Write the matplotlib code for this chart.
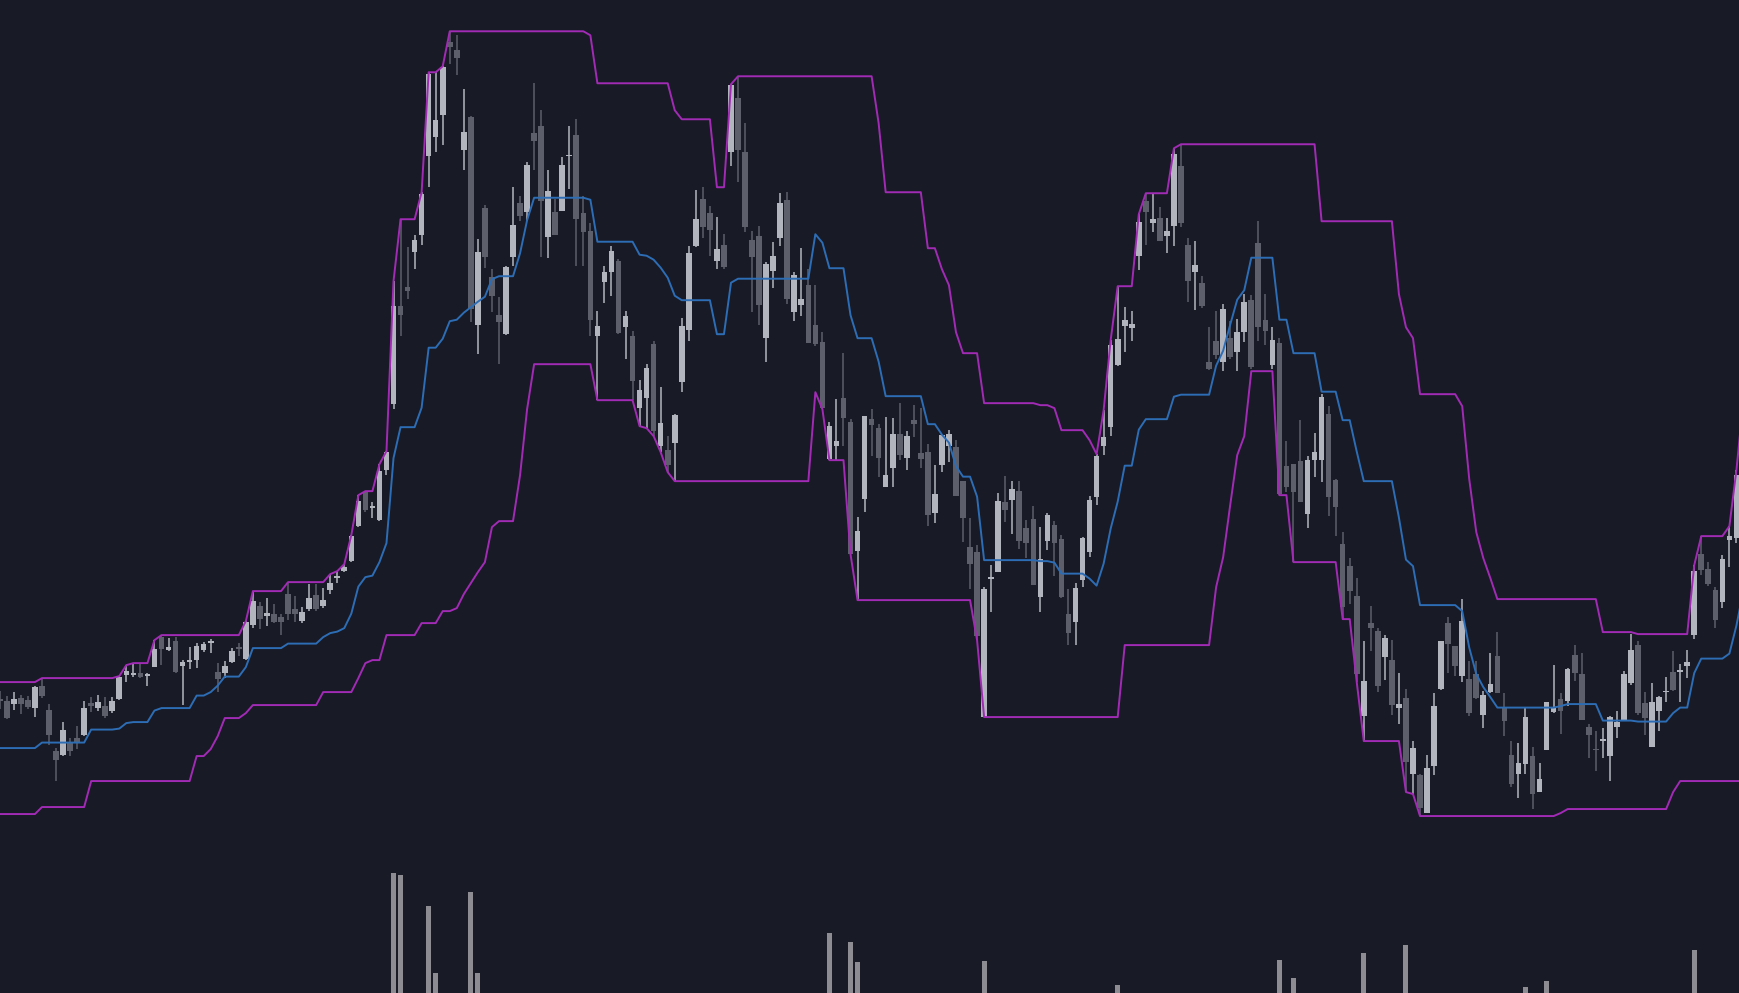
import numpy as np
import pandas as pd
import matplotlib
matplotlib.use("Agg")
import matplotlib.pyplot as plt

# bars -19..-1 lie left of the visible window; they only feed the channel
bar_idx = np.arange(-19, 248)

opens = [
    215, 222, 210, 202, 194, 205, 218, 225, 212, 205, 210, 204, 220, 235, 260, 290, 305, 295, 300,
    298, 295, 301, 299, 291, 313, 289, 248, 244, 257,
    261, 264, 296, 291, 293, 288, 300, 324, 324, 326,
    323, 332, 362, 349, 358, 333, 337, 339, 349, 356,
    327, 326, 337, 352, 340, 374, 393, 383, 385, 382,
    405, 390, 378, 390, 404, 393, 409, 421, 428, 438,
    473, 507, 491, 479, 529, 595, 693, 712, 747, 764,
    843, 862, 884, 957, 949, 849, 882, 674, 791, 722,
    684, 665, 742, 796, 787, 866, 873, 762, 787, 788,
    843, 864, 786, 768, 663, 717, 727, 738, 672, 663,
    591, 601, 655, 553, 549, 556, 617, 669, 753, 800,
    786, 738, 754, 847, 901, 847, 759, 763, 661, 728,
    761, 799, 687, 694, 714, 674, 657, 540, 553, 601,
    577, 448, 500, 580, 571, 512, 531, 565, 541, 579,
    546, 547, 486, 534, 553, 552, 518, 452, 447, 282,
    420, 427, 497, 499, 508, 471, 480, 402, 458, 474,
    460, 385, 377, 419, 447, 502, 553, 572, 634, 673,
    671, 743, 798, 776, 781, 763, 773, 833, 754, 727,
    716, 637, 658, 637, 661, 647, 667, 699, 756, 679,
    634, 656, 533, 535, 538, 485, 539, 539, 585, 519,
    455, 433, 403, 283, 376, 368, 342, 339, 291, 301,
    225, 224, 186, 233, 310, 376, 353, 323, 320, 325,
    284, 307, 343, 291, 244, 225, 235, 243, 207, 249,
    287, 300, 298, 344, 325, 272, 250, 258, 243, 272,
    279, 316, 354, 296, 252, 288, 307, 327, 327, 333,
    364, 445, 430, 409, 397, 459, 461, 524,
]
highs = [
    228, 230, 220, 215, 210, 222, 230, 235, 224, 216, 220, 217, 242, 265, 295, 317, 312, 310, 308,
    303, 307, 304, 303, 313, 321, 295, 251, 277, 261,
    273, 298, 302, 304, 302, 302, 323, 334, 336, 335,
    326, 359, 364, 361, 362, 339, 352, 356, 357, 360,
    336, 338, 351, 356, 378, 408, 397, 401, 395, 385,
    417, 403, 392, 415, 415, 411, 425, 428, 435, 464,
    504, 508, 497, 535, 548, 718, 780, 752, 764, 807,
    927, 927, 933, 968, 964, 910, 883, 760, 794, 730,
    702, 733, 812, 803, 837, 916, 889, 829, 800, 842,
    873, 880, 803, 776, 688, 733, 753, 740, 688, 668,
    619, 635, 658, 612, 563, 585, 681, 753, 809, 812,
    793, 782, 765, 915, 923, 876, 768, 773, 737, 757,
    806, 807, 727, 751, 730, 714, 667, 577, 600, 646,
    580, 482, 583, 590, 575, 582, 581, 596, 568, 594,
    591, 555, 534, 564, 569, 559, 518, 481, 454, 412,
    434, 506, 523, 518, 518, 479, 493, 472, 486, 478,
    464, 410, 416, 462, 503, 545, 589, 659, 713, 692,
    688, 785, 806, 805, 792, 781, 851, 855, 761, 758,
    723, 672, 688, 695, 678, 680, 705, 704, 778, 705,
    672, 661, 558, 535, 579, 543, 566, 605, 593, 520,
    467, 441, 421, 358, 393, 371, 364, 359, 326, 310,
    258, 225, 244, 306, 358, 382, 353, 400, 338, 338,
    308, 346, 367, 306, 258, 256, 292, 252, 236, 297,
    334, 306, 331, 354, 346, 275, 268, 271, 283, 288,
    328, 365, 358, 307, 316, 303, 322, 348, 335, 349,
    434, 463, 437, 412, 444, 473, 529, 600,
]
lows = [
    200, 205, 195, 190, 185, 200, 210, 208, 200, 196, 200, 192, 219, 230, 255, 285, 288, 286, 290,
    280, 289, 285, 290, 282, 301, 254, 218, 243, 243,
    250, 263, 287, 288, 281, 286, 299, 317, 322, 321,
    313, 332, 334, 348, 326, 294, 330, 331, 347, 346,
    307, 321, 336, 343, 339, 371, 370, 373, 376, 364,
    379, 377, 376, 388, 388, 391, 405, 416, 427, 437,
    472, 487, 481, 478, 524, 590, 663, 700, 730, 754,
    812, 847, 854, 935, 924, 829, 677, 645, 731, 687,
    635, 664, 733, 778, 778, 829, 742, 741, 764, 788,
    810, 733, 733, 663, 599, 696, 703, 665, 640, 599,
    573, 571, 563, 547, 527, 518, 607, 658, 752, 761,
    743, 730, 730, 833, 817, 767, 687, 674, 637, 711,
    753, 695, 678, 683, 656, 653, 590, 539, 539, 553,
    445, 399, 487, 543, 522, 512, 512, 539, 529, 562,
    531, 473, 476, 527, 537, 503, 457, 410, 359, 282,
    387, 427, 477, 465, 450, 441, 414, 387, 449, 423,
    401, 354, 354, 412, 442, 494, 544, 563, 633, 647,
    658, 729, 754, 767, 758, 746, 753, 772, 697, 689,
    691, 629, 640, 628, 640, 628, 657, 630, 658, 654,
    630, 504, 507, 437, 497, 471, 522, 517, 483, 463,
    380, 395, 317, 258, 348, 307, 319, 284, 275, 207,
    205, 183, 186, 224, 309, 326, 323, 317, 283, 300,
    271, 306, 306, 263, 212, 201, 225, 190, 207, 249,
    286, 265, 293, 318, 279, 241, 228, 241, 218, 261,
    279, 314, 284, 264, 252, 268, 297, 308, 297, 321,
    360, 424, 413, 371, 391, 432, 456, 520,
]
closes = [
    222, 210, 202, 194, 205, 218, 225, 212, 205, 210, 204, 214, 235, 260, 290, 305, 295, 300, 298,
    281, 300, 295, 292, 312, 303, 264, 239, 269, 248,
    256, 291, 293, 297, 283, 298, 322, 328, 326, 322,
    325, 350, 350, 352, 327, 337, 339, 353, 355, 358,
    320, 333, 348, 350, 377, 398, 380, 386, 377, 377,
    385, 385, 387, 401, 390, 399, 416, 423, 432, 463,
    498, 489, 493, 528, 547, 693, 684, 708, 759, 805,
    925, 879, 932, 952, 941, 867, 690, 747, 742, 703,
    677, 732, 774, 783, 834, 858, 798, 808, 764, 834,
    844, 780, 767, 679, 673, 727, 748, 666, 683, 618,
    609, 631, 568, 576, 534, 584, 673, 746, 780, 772,
    769, 750, 732, 914, 849, 772, 742, 694, 735, 743,
    796, 700, 724, 700, 656, 655, 591, 573, 558, 581,
    445, 468, 583, 574, 541, 524, 565, 544, 563, 575,
    540, 484, 505, 564, 565, 503, 481, 435, 363, 410,
    422, 498, 489, 510, 458, 456, 414, 440, 484, 456,
    402, 366, 411, 461, 499, 543, 562, 654, 660, 679,
    675, 777, 787, 780, 758, 768, 845, 776, 718, 734,
    693, 630, 644, 690, 642, 667, 697, 632, 672, 668,
    659, 505, 512, 507, 497, 539, 547, 602, 502, 492,
    392, 408, 325, 318, 371, 313, 361, 294, 295, 237,
    251, 191, 231, 293, 358, 355, 333, 378, 286, 301,
    304, 315, 306, 278, 215, 236, 282, 205, 220, 297,
    292, 288, 330, 326, 279, 264, 249, 260, 282, 277,
    325, 349, 286, 281, 297, 302, 308, 309, 329, 337,
    428, 429, 415, 379, 440, 463, 524, 590,
]

# volume (thousands), only the spikes tall enough to show
vol_idx = [55, 56, 60, 61, 66, 67, 117, 120, 121, 139, 158, 181, 183, 193, 199, 216, 219, 240]
vol_k = [270, 268, 237, 170, 251, 170, 210, 201, 181, 182, 158, 183, 165, 190, 198, 156, 162, 193]

period = 20

bg = "#181a25"
up_col = "#b2b5be"
dn_col = "#5d606b"
band_col = "#a22bb6"
mid_col = "#2d6db5"
vol_col = "#8c8c92"

df = pd.DataFrame({"o": opens, "h": highs, "l": lows, "c": closes}, index=bar_idx)
upper = df["h"].rolling(period, min_periods=1).max()
lower = df["l"].rolling(period, min_periods=1).min()
middle = (upper + lower) / 2

fig = plt.figure(figsize=(17.4, 9.937), dpi=100, facecolor=bg)

axv = fig.add_axes([0, 0, 1, 1])
axv.set_facecolor(bg)
axv.bar(vol_idx, vol_k, width=0.7, color=vol_col, linewidth=0)
axv.set_ylim(150, 1144)

ax = fig.add_axes([0, 0, 1, 1])
ax.patch.set_alpha(0)

rising = df["c"] >= df["o"]
colors = np.where(rising, up_col, dn_col)
body_lo = np.minimum(df["o"], df["c"])
body_h = np.maximum(np.abs(df["c"] - df["o"]), 1.2)

ax.vlines(bar_idx, df["l"], df["h"], colors=colors, linewidth=1.1, zorder=2)
ax.bar(bar_idx, body_h, bottom=body_lo, width=0.8, color=colors, linewidth=0, zorder=2)

ax.plot(bar_idx, upper, color=band_col, linewidth=1.4, zorder=3)
ax.plot(bar_idx, lower, color=band_col, linewidth=1.4, zorder=3)
ax.plot(bar_idx, middle, color=mid_col, linewidth=1.4, zorder=3)

for a in (ax, axv):
    a.set_xlim(-0.967, 246.51)
    a.axis("off")
ax.set_ylim(6, 1000)

fig.savefig("out.png", dpi=100, facecolor=bg)
